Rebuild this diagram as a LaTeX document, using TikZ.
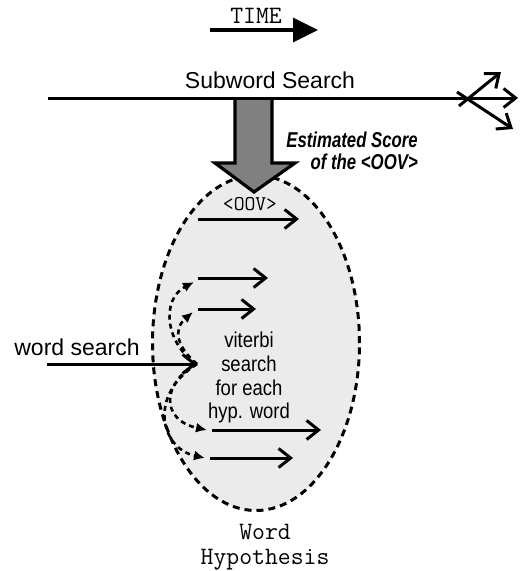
\documentclass[tikz,border=0pt]{standalone}
\usepackage{fontspec}
\setmainfont{Liberation Sans}
\newfontfamily\narrowsans[FakeStretch=0.78]{Liberation Sans}
\newfontfamily\slimsans[FakeStretch=0.86]{Liberation Sans}
\usetikzlibrary{arrows.meta,shapes.geometric}

\definecolor{poolfill}{gray}{0.92}
\definecolor{scorefill}{gray}{0.5}

\tikzset{
  wire/.style={line width=3pt},
  barb/.style={wire, -{Straight Barb[length=12pt,width=19pt]}},
  hop/.style={line width=2.6pt, dash pattern=on 5pt off 4pt,
              -{Latex[length=11pt,width=10pt]}},
  label/.style={inner sep=0pt, anchor=base},
  sans/.style={label, font=\fontsize{23}{27}\selectfont},
  small/.style={label, font=\slimsans\fontsize{21.5}{25}\selectfont},
  mono/.style={label, font=\ttfamily\fontsize{25}{29}\selectfont},
}

\begin{document}
\begin{tikzpicture}[x=1pt, y=-1pt]
\useasboundingbox (0,0) rectangle (520,571);

% time direction
\node[mono] (time) at (256,23) {TIME};
\coordinate (t0) at (210,30);
\coordinate (t1) at (318,30);
\draw[line width=3.2pt, -{Triangle[length=25pt,width=24pt]}] (t0) -- (t1);

% hypothesis pool
\node[draw, dash pattern=on 7pt off 5pt, line width=3pt,
      fill=poolfill, ellipse, minimum width=207pt, minimum height=335pt,
      inner sep=0pt] (pool) at (256,343) {};

% estimated score arrow
\coordinate (s1) at (235,100);
\coordinate (s2) at (235,163);
\coordinate (s3) at (215,163);
\coordinate (tip) at (254,192);
\coordinate (s5) at (295,163);
\coordinate (s6) at (272,163);
\coordinate (s7) at (272,100);
\filldraw[line width=3.2pt, line join=miter, fill=scorefill]
  (s1) -- (s2) -- (s3) -- (tip) -- (s5) -- (s6) -- (s7);

% subword search with its branches
\node[sans] (sub) at (270,88) {Subword Search};
\coordinate (u0) at (48,98);
\coordinate (u1) at (518,98);
\draw[barb] (u0) -- (u1);
\coordinate (b1s) at (459,106);
\coordinate (b1e) at (501,72);
\coordinate (b2s) at (457,92);
\coordinate (b2e) at (513,129);
\draw[barb] (b1s) -- (b1e);
\draw[barb] (b2s) -- (b2e);

\node[label, anchor=base east, font=\narrowsans\bfseries\itshape\fontsize{21.5}{25}\selectfont]
  (est1) at (418,147) {Estimated Score};
\node[label, anchor=base east, font=\narrowsans\bfseries\itshape\fontsize{21.5}{25}\selectfont]
  (est2) at (418,169) {of the <OOV>};

% contents of the pool
\node[label, font=\ttfamily\fontsize{21}{25}\selectfont] (oov) at (250,210) {<OOV>};
\coordinate (a0s) at (198,219); \coordinate (a0e) at (299,219);
\coordinate (a1s) at (198,278); \coordinate (a1e) at (268,278);
\coordinate (a2s) at (198,309); \coordinate (a2e) at (256,309);
\coordinate (a3s) at (212,430); \coordinate (a3e) at (321,430);
\coordinate (a4s) at (210,458); \coordinate (a4e) at (293,458);
\draw[barb] (a0s) -- (a0e);
\draw[barb] (a1s) -- (a1e);
\draw[barb] (a2s) -- (a2e);
\draw[barb] (a3s) -- (a3e);
\draw[barb] (a4s) -- (a4e);

\node[small] (v1) at (249,347) {viterbi};
\node[small] (v2) at (249,371) {search};
\node[small] (v3) at (249,395) {for each};
\node[small] (v4) at (249,418) {hyp. word};

% word search entry
\node[sans] (ws) at (77,355) {word search};
\coordinate (w0) at (47,364);
\coordinate (w1) at (197,364);
\draw[barb] (w0) -- (w1);

% dashed hops from the entry to each hypothesis
\coordinate (h1) at (194,282);
\coordinate (h2) at (193,312);
\coordinate (h3) at (207,430);
\coordinate (h4) at (205,458);
\draw[hop] (w1) .. controls (166,345) and (160,300) .. (h1);
\draw[hop] (w1) .. controls (178,348) and (172,330) .. (h2);
\draw[hop] (w1) .. controls (162,382) and (160,420) .. (h3);
\draw[hop] (w1) .. controls (148,395) and (160,448) .. (h4);

% pool caption
\node[mono] (cap1) at (265,539) {Word};
\node[mono] (cap2) at (265,564) {Hypothesis};
\end{tikzpicture}
\end{document}
